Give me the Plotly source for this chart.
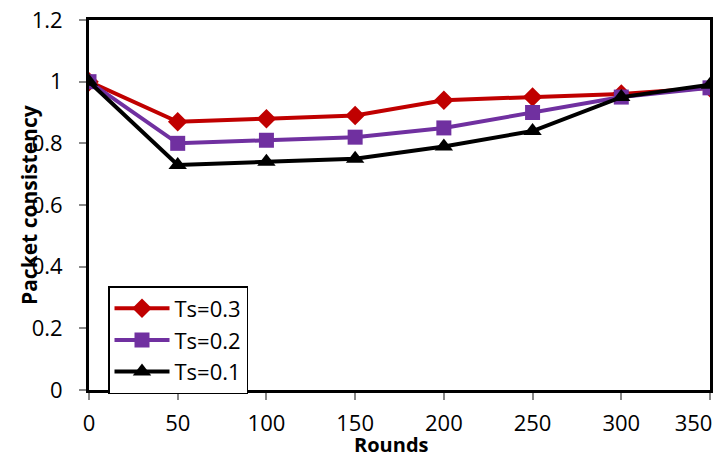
import plotly.graph_objects as go

rounds = [0, 50, 100, 150, 200, 250, 300, 350]
x_tick_labels = ["0", "50", "100", "150", "200", "250", "300", "350"]
ts03 = [1.0, 0.87, 0.88, 0.89, 0.94, 0.95, 0.96, 0.98]
ts02 = [1.0, 0.80, 0.81, 0.82, 0.85, 0.90, 0.95, 0.98]
ts01 = [1.0, 0.73, 0.74, 0.75, 0.79, 0.84, 0.95, 0.99]
y_ticks = [0, 0.2, 0.4, 0.6, 0.8, 1, 1.2]
y_tick_labels = ["0", "0.2", "0.4", "0.6", "0.8", "1", "1.2"]

FONT = "Open Sans, sans-serif"

# last x label is pulled inside the page (as in the original), via trailing fixed-width spaces
x_text = x_tick_labels[:-1] + [x_tick_labels[-1] + "\u2002" * 3]

fig = go.Figure()
fig.add_trace(go.Scatter(x=rounds, y=ts03, name="Ts=0.3", mode="lines+markers",
                         line=dict(color="#C00000", width=4),
                         marker=dict(symbol="diamond", size=15, color="#C00000")))
fig.add_trace(go.Scatter(x=rounds, y=ts02, name="Ts=0.2", mode="lines+markers",
                         line=dict(color="#7030A0", width=4),
                         marker=dict(symbol="square", size=15, color="#7030A0")))
fig.add_trace(go.Scatter(x=rounds, y=ts01, name="Ts=0.1", mode="lines+markers",
                         line=dict(color="#000000", width=4),
                         marker=dict(symbol="triangle-up", size=16, color="#000000")))

fig.update_layout(
    width=719, height=458,
    margin=dict(l=89, r=9, t=20, b=68),
    paper_bgcolor="white", plot_bgcolor="white",
    font=dict(family=FONT, size=22, color="black"),
    showlegend=True,
    legend=dict(x=0.0306, y=0.281, xanchor="left", yanchor="top",
                bgcolor="white", bordercolor="black", borderwidth=1.5,
                font=dict(family=FONT, size=22), tracegroupgap=0, itemwidth=55),
    xaxis=dict(range=[0, 350], tickvals=rounds, ticktext=x_text,
               ticks="outside", ticklen=7, tickwidth=1.5,
               tickcolor="#888888", showgrid=False, zeroline=False,
               showline=True, linecolor="black", linewidth=3, mirror=True,
               ticklabelstandoff=5, ticklabeloverflow="allow",
               tickfont=dict(size=22), automargin=False),
    yaxis=dict(range=[0, 1.2], tickvals=y_ticks, ticktext=y_tick_labels,
               ticks="outside", ticklen=7, tickwidth=1.5, tickcolor="#888888",
               showgrid=False, zeroline=False,
               showline=True, linecolor="black", linewidth=3, mirror=True,
               ticklabelstandoff=12, ticklabeloverflow="allow",
               tickfont=dict(size=22), automargin=False),
    annotations=[
        dict(text="<b>Rounds</b>", xref="paper", yref="paper", x=0.5, y=0,
             xshift=-8, yshift=-54, xanchor="center", yanchor="middle",
             showarrow=False, font=dict(family=FONT, size=20, color="black")),
        dict(text="<b>Packet consistency</b>", xref="paper", yref="paper", x=0, y=0.5,
             xshift=-60, textangle=-90, xanchor="center", yanchor="middle",
             showarrow=False, font=dict(family=FONT, size=21, color="black")),
    ],
)
fig.write_html("out.html",
               config={"displayModeBar": False},
               post_script="document.body.style.margin='0px';document.body.style.overflow='hidden';")
